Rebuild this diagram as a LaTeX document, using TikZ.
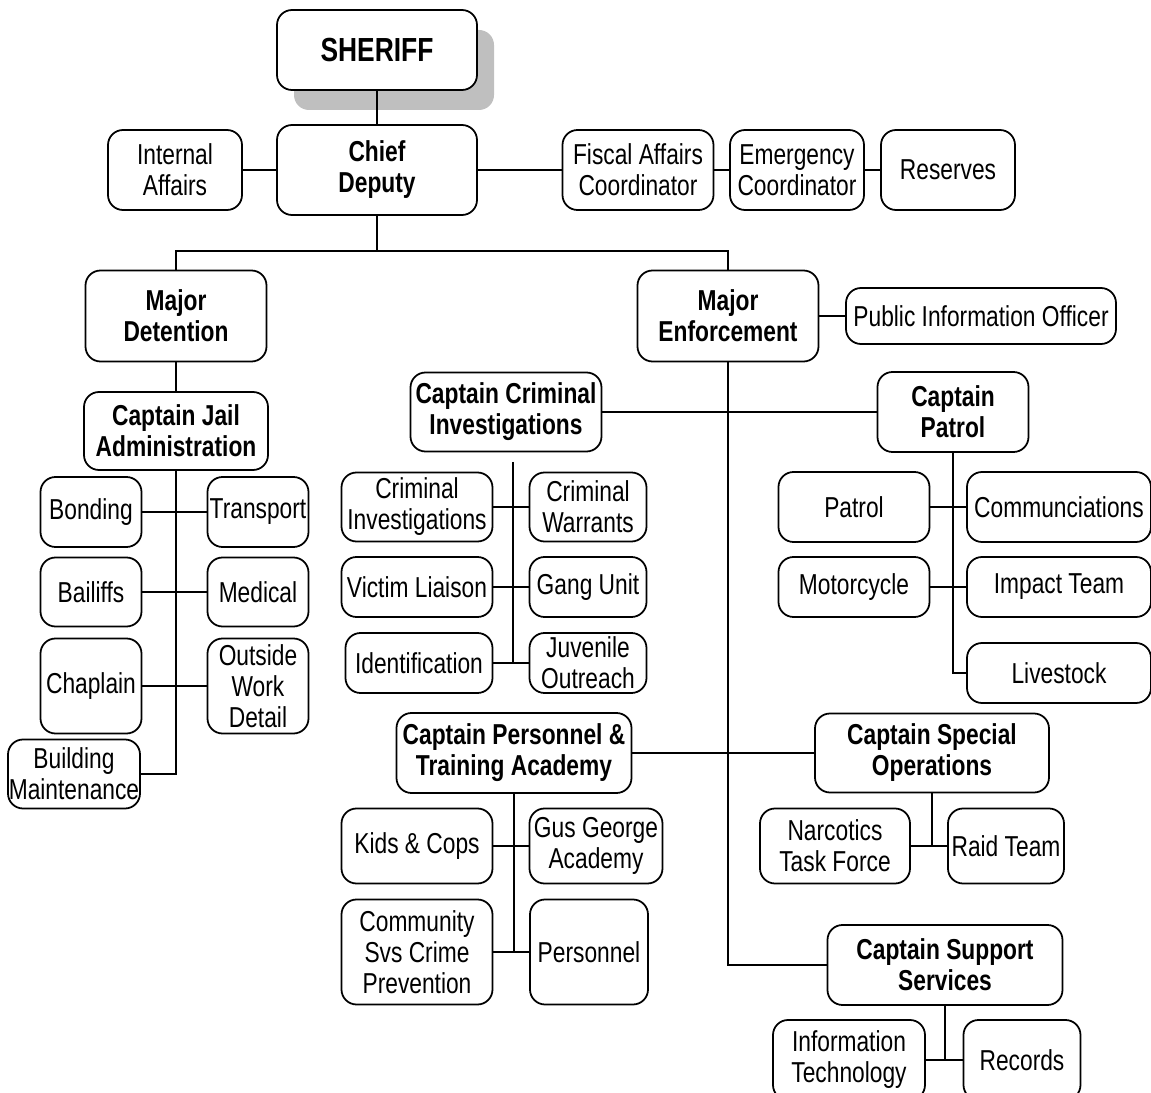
\documentclass[tikz,border=0pt]{standalone}
\usepackage{fontspec}
\setmainfont{Liberation Sans}[FakeStretch=0.79]
\usetikzlibrary{positioning, shadows}
\def\px{0.2mm}
\tikzset{
    unit/.style={draw, rounded corners=3mm, line width=1pt, align=center,
        inner sep=0pt, fill=white, font=\fontsize{16.4}{17.6}\selectfont},
    head/.style={unit, font=\fontsize{16.4}{17.6}\selectfont\bfseries},
    link/.style={line width=0.85pt},
}
\begin{document}
\begin{tikzpicture}[x=\px, y=-\px]
    \useasboundingbox (0,0) rectangle (1151,1093);

    % top
    \node[head, minimum width=200*\px, minimum height=80*\px,
        font=\fontsize{19}{20}\selectfont\bfseries,
        drop shadow={shadow xshift=3.4mm, shadow yshift=-4mm, fill=black!25, opacity=1}]
        (sheriff) at (377,50) {SHERIFF};

    % bold boxes
    \foreach \n/\x/\y/\w/\h/\t in {
        chief/377/170/200/90/{Chief\\Deputy},
        majdet/176/316/181/91/{Major\\Detention},
        majenf/728/316/181/91/{Major\\Enforcement},
        capjail/176/431/184/78/{Captain Jail\\Administration},
        capcrim/506/412/191/79/{Captain Criminal\\Investigations},
        cappatrol/953/412/151/80/{Captain\\Patrol},
        cappers/514/753/235/80/{Captain Personnel \&\\Training Academy},
        capspec/932/753/234/79/{Captain Special\\Operations},
        capsupp/945/965/235/80/{Captain Support\\Services}}{
        \node[head, minimum width=\w*\px, minimum height=\h*\px] (\n) at (\x,\y) {\t};
    }

    % plain boxes
    \foreach \n/\x/\y/\w/\h/\t in {
        internal/175/170/134/80/{Internal\\Affairs},
        fiscal/638/170/151/80/{Fiscal Affairs\\Coordinator},
        emerg/797/170/134/80/{Emergency\\Coordinator},
        reserves/948/170/134/80/{Reserves},
        pio/981/316/270/56/{Public Information Officer},
        bonding/91/512/101/70/{Bonding},
        transport/258/512/101/70/{Transport},
        bailiffs/91/592/101/69/{Bailiffs},
        medical/258/592/101/69/{Medical},
        chaplain/91/686/101/95/{Chaplain},
        outside/258/686/101/95/{Outside\\Work\\Detail},
        building/74/774/132/69/{Building\\Maintenance},
        crimeinv/417/507/151/69/{Criminal\\Investigations},
        warrants/588/507/117/69/{Criminal\\Warrants},
        victim/417/587/151/60/{Victim Liaison},
        gang/588/587/117/60/{Gang Unit},
        ident/419/663/147/60/{Identification},
        juvenile/588/663/117/60/{Juvenile\\Outreach},
        patrol/854/507/151/70/{Patrol},
        comms/1059/507/184/70/{Communciations},
        motorcycle/854/587/151/60/{Motorcycle},
        impact/1059/587/184/60/{Impact Team},
        livestock/1059/673/184/60/{Livestock},
        kids/417/846/151/75/{Kids \& Cops},
        gus/596/846/133/75/{Gus George\\Academy},
        community/417/952/151/105/{Community\\Svs Crime\\Prevention},
        personnel/589/952/118/105/{Personnel},
        narcotics/835/846/150/75/{Narcotics\\Task Force},
        raid/1006/846/116/75/{Raid Team},
        infotech/849/1060/152/80/{Information\\Technology},
        records/1022/1060/117/80/{Records}}{
        \node[unit, minimum width=\w*\px, minimum height=\h*\px] (\n) at (\x,\y) {\t};
    }

    \coordinate (split) at (377,251);
    \coordinate (crimtop) at (513,462);

    % command line
    \draw[link] (sheriff) -- (chief);
    \draw[link] (internal) -- (chief);
    \draw[link] (chief) -- (fiscal);
    \draw[link] (fiscal) -- (emerg);
    \draw[link] (emerg) -- (reserves);
    \draw[link] (chief) -- (split);
    \draw[link] (majdet.north) |- (split) -| (majenf.north);
    \draw[link] (majenf) -- (pio);

    % detention
    \draw[link] (majdet) -- (capjail);
    \draw[link] (capjail.south) |- (building.east);
    \draw[link] (bonding) -- (transport);
    \draw[link] (bailiffs) -- (medical);
    \draw[link] (chaplain) -- (outside);

    % enforcement
    \draw[link] (majenf.south) |- (capsupp.west);
    \draw[link] (capcrim) -- (cappatrol);
    \draw[link] (cappers) -- (capspec);

    \draw[link] (crimtop) -- (crimtop |- juvenile.west);
    \draw[link] (crimeinv) -- (warrants);
    \draw[link] (victim) -- (gang);
    \draw[link] (ident) -- (juvenile);

    \draw[link] (cappatrol.south) |- (livestock.west);
    \draw[link] (patrol) -- (comms);
    \draw[link] (motorcycle) -- (impact);

    \draw[link] (cappers.south) -- (cappers.south |- community.east);
    \draw[link] (kids) -- (gus);
    \draw[link] (community) -- (personnel);

    \draw[link] (capspec.south) -- (capspec.south |- narcotics.east);
    \draw[link] (narcotics) -- (raid);

    \draw[link] (capsupp.south) -- (capsupp.south |- infotech.east);
    \draw[link] (infotech) -- (records);
\end{tikzpicture}
\end{document}
